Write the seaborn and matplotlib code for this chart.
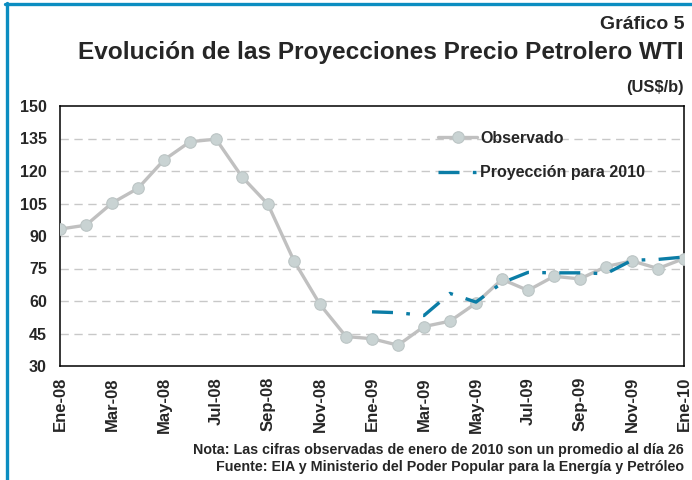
import matplotlib
matplotlib.use("Agg")
import matplotlib.pyplot as plt
import seaborn as sns
import pandas as pd
import numpy as np

meses = ["Ene-08", "Feb-08", "Mar-08", "Abr-08", "May-08", "Jun-08", "Jul-08", "Ago-08",
         "Sep-08", "Oct-08", "Nov-08", "Dic-08", "Ene-09", "Feb-09", "Mar-09", "Abr-09",
         "May-09", "Jun-09", "Jul-09", "Ago-09", "Sep-09", "Oct-09", "Nov-09", "Dic-09", "Ene-10"]
observado = [93.2, 95.0, 105.2, 112.0, 125.1, 133.5, 134.7, 117.3, 104.6, 78.5, 58.4, 43.6,
             42.6, 39.6, 48.2, 50.7, 59.0, 70.0, 64.9, 71.4, 70.2, 75.9, 78.5, 75.0, 79.6]
proyeccion = [np.nan] * 12 + [55.0, 54.6, 53.3, 63.5, 59.5, 68.4, 73.2, 73.0, 73.0, 72.6,
                              78.8, 79.2, 80.3]
yticks = [30, 45, 60, 75, 90, 105, 120, 135, 150]

df = pd.DataFrame({"idx": np.arange(len(meses)), "mes": meses,
                   "Observado": observado, "Proyeccion": proyeccion})

sns.set_style("white")
plt.rcParams["font.family"] = ["Liberation Sans", "DejaVu Sans"]
plt.rcParams["font.weight"] = "bold"

W, H = 692, 480
fig = plt.figure(figsize=(W / 100, H / 100), dpi=100)
ax = fig.add_axes([60 / W, 1 - 366 / H, 624 / W, 260 / H])

for yv in yticks[1:-1]:
    ax.axhline(yv, color="#c8c8c8", lw=1.0, ls=(0, (6, 4)), zorder=0)

sns.lineplot(data=df, x="idx", y="Observado", ax=ax, color="#c0c0c0", lw=2.4,
             marker="o", markersize=8.3, markerfacecolor="#c9d3d3",
             markeredgecolor="#bcc5c5", markeredgewidth=0.8, label="Observado", zorder=3)
dfp = df.dropna(subset=["Proyeccion"])
sns.lineplot(data=dfp, x="idx", y="Proyeccion", ax=ax, color="#0b7da6", lw=2.4,
             linestyle=(0, (6.3, 4.0, 1.1, 4.0)), label="Proyección para 2010", zorder=4)

ax.set_xlim(0, 24)
ax.set_ylim(30, 150)
ax.set_yticks(yticks)
ax.set_yticklabels([str(v) for v in yticks], fontsize=11.5, fontweight="bold")
xt = list(range(0, 25, 2))
ax.set_xticks(xt)
ax.set_xticklabels([meses[i] for i in xt], rotation=90, fontsize=12, fontweight="bold")
ax.set_xlabel("")
ax.set_ylabel("")
ax.tick_params(axis="both", direction="out", length=5, width=1, color="black")
ax.tick_params(axis="y", pad=4.5)
ax.tick_params(axis="x", pad=3)
for s in ax.spines.values():
    s.set_color("black")
    s.set_linewidth(1.1)
    s.set_visible(True)

leg = ax.legend(loc="upper left", bbox_to_anchor=((438 - 60) / 624, (366 - 131) / 260),
                frameon=False, prop={"weight": "bold", "size": 11.5}, handlelength=2.45,
                handletextpad=0.2, labelspacing=1.2, borderaxespad=0, borderpad=0)

fig.text(684 / W, 1 - 29 / H, "Gráfico 5", ha="right", va="baseline",
         fontsize=14, fontweight="bold")
fig.text(684 / W, 1 - 59.5 / H, "Evolución de las Proyecciones Precio Petrolero WTI",
         ha="right", va="baseline", fontsize=17.6, fontweight="bold")
fig.text(684 / W, 1 - 92 / H, "(US$/b)", ha="right", va="baseline",
         fontsize=11.8, fontweight="bold")
fig.text(684 / W, 1 - 454 / H,
         "Nota: Las cifras observadas de enero de 2010 son un promedio al día 26",
         ha="right", va="baseline", fontsize=10.3, fontweight="bold")
fig.text(684 / W, 1 - 471 / H,
         "Fuente: EIA y Ministerio del Poder Popular para la Energía y Petróleo",
         ha="right", va="baseline", fontsize=10.3, fontweight="bold")

blue = "#0b8dc1"
fig.add_artist(plt.Line2D([5 / W, 1], [1 - 4 / H, 1 - 4 / H],
                          transform=fig.transFigure, color=blue, lw=2.4))
fig.add_artist(plt.Line2D([6.5 / W, 6.5 / W], [0, 1 - 3 / H],
                          transform=fig.transFigure, color=blue, lw=2.4))

fig.savefig("out.png", dpi=100)
